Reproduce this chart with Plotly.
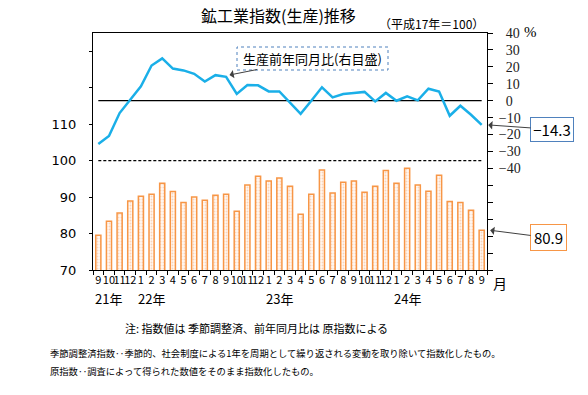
import plotly.graph_objects as go

# ---- data ----
years = [2021] * 4 + [2022] * 12 + [2023] * 12 + [2024] * 9
months = [9, 10, 11, 12] + list(range(1, 13)) + list(range(1, 13)) + list(range(1, 10))
categories = [f"{y}/{m}" for y, m in zip(years, months)]
month_labels = [str(m) for m in months]

production_index = [79.5, 83.4, 85.6, 88.9, 90.2, 90.8, 93.8, 91.5, 88.5, 90.0,
                    89.1, 90.5, 90.8, 86.1, 93.3, 95.7, 94.4, 95.2, 93.0, 85.3,
                    90.8, 97.4, 91.1, 94.1, 94.4, 91.3, 93.0, 97.3, 93.8, 97.9,
                    93.3, 91.6, 96.0, 88.8, 88.5, 86.4, 80.9]
yoy_change = [-25.6, -20.8, -7.3, 0.5, 8.5, 20.8, 25.0, 19.0, 17.9, 15.9,
              11.3, 15.1, 14.1, 4.0, 9.3, 9.1, 5.5, 5.5, -1.0, -7.7,
              0.0, 7.9, 2.0, 4.0, 4.6, 5.2, -0.4, 4.6, 0.0, 2.6,
              0.2, 7.1, 5.4, -8.9, -3.0, -8.3, -14.3]

year_label_cats = ["2021/10", "2022/2", "2023/2", "2024/2"]
year_label_text = ["21年", "22年", "23年", "24年"]

left_tick_vals = [70, 80, 90, 100, 110, 120, 130]
left_tick_text = ["70", "80", "90", "100", "110", "", ""]
right_tick_vals = list(range(-100, 41, 10))
right_tick_text = [("" if v < -40 else (("\u2212" + str(-v)) if v < 0 else "\u2007" + str(v)))
                   for v in right_tick_vals]

JP = "Noto Sans CJK JP"
ORANGE = "#F79646"
BLUE = "#1AAFE8"

# plot area spans x 93..487, y 33..270 in the 588x395 window (body margin removed)
PL, PR, PT, PB = 93, 487, 33, 270
PW, PH = PR - PL, PB - PT


def px(x):
    return (x - PL) / PW


def py(y):
    return (PB - y) / PH


fig = go.Figure()
fig.add_trace(go.Bar(
    x=categories, y=production_index, yaxis="y",
    marker=dict(color="#FFF3EA", line=dict(color=ORANGE, width=1.5),
                pattern=dict(shape=".", fgcolor="#F4B183", bgcolor="#FFF8F3", size=3, solidity=0.3)),
    showlegend=False, hoverinfo="skip",
))
fig.add_trace(go.Scatter(
    x=categories, y=yoy_change, yaxis="y2", mode="lines",
    line=dict(color=BLUE, width=2.5), showlegend=False, hoverinfo="skip",
))

fig.update_layout(
    width=588, height=395,
    margin=dict(l=PL, r=588 - PR, t=PT, b=395 - PB, pad=0),
    paper_bgcolor="white", plot_bgcolor="white",
    bargap=0.52,
    font=dict(family=JP, size=12, color="black"),
    xaxis=dict(
        type="category", tickmode="array", tickvals=categories, ticktext=month_labels,
        tickangle=0, tickson="boundaries", ticks="outside", ticklen=4, tickcolor="black",
        showline=True, linecolor="black", linewidth=1, mirror=True,
        showgrid=False, zeroline=False,
        tickfont=dict(family=JP, size=11),
    ),
    yaxis=dict(
        range=[70, 135], tickmode="array", tickvals=left_tick_vals, ticktext=left_tick_text,
        ticks="outside", ticklen=3, tickcolor="black", ticklabelstandoff=10,
        showline=True, linecolor="black", linewidth=1,
        showgrid=False, zeroline=False,
        tickfont=dict(family="DejaVu Sans", size=13),
    ),
    yaxis2=dict(
        range=[-100, 40], overlaying="y", side="right",
        tickmode="array", tickvals=right_tick_vals, ticktext=right_tick_text,
        ticks="outside", ticklen=5, tickcolor="black", ticklabelstandoff=3,
        showline=True, linecolor="black", linewidth=1,
        showgrid=False, zeroline=False,
        tickfont=dict(family="Liberation Serif", size=14, color="#222222"),
    ),
)

# reference lines
fig.add_shape(type="line", xref="x", yref="y2", x0=categories[0], x1=categories[-1],
              y0=0, y1=0, line=dict(color="black", width=1.2), layer="below")
fig.add_shape(type="line", xref="x", yref="y", x0=categories[0], x1=categories[-1],
              y0=100, y1=100, line=dict(color="black", width=1.2, dash="3px,2px"), layer="below")

# label box for line series (dotted border)
fig.add_shape(type="rect", xref="paper", yref="paper",
              x0=px(237), x1=px(388), y0=py(70), y1=py(47),
              line=dict(color="#4F81BD", width=1, dash="dot"), fillcolor="white", layer="above")

annotations = [
    dict(text="鉱工業指数(生産)推移", xref="paper", yref="paper", x=px(278), y=py(15.5),
         showarrow=False, font=dict(family=JP, size=16), xanchor="center", yanchor="middle"),
    dict(text="（平成17年＝100）", xref="paper", yref="paper", x=px(431), y=py(23),
         showarrow=False, font=dict(family=JP, size=12), xanchor="center", yanchor="middle"),
    dict(text="%", xref="paper", yref="paper", x=px(530), y=py(32),
         showarrow=False, font=dict(family="Liberation Serif", size=15), xanchor="center", yanchor="middle"),
    dict(text="生産前年同月比(右目盛)", xref="paper", yref="paper",
         x=px(229.5), y=py(75), ax=83, ay=-16.5,
         showarrow=True, arrowhead=1, arrowsize=1.4, arrowwidth=1, arrowcolor="#404040",
         font=dict(family=JP, size=13), width=147, height=19, borderpad=1),
    dict(text=f"{yoy_change[-1]:.1f}".replace("-", "\u2212"), xref="paper", yref="y2",
         x=1.003, y=yoy_change[-1], ax=64, ay=4.5,
         showarrow=True, arrowhead=1, arrowsize=1.4, arrowwidth=1, arrowcolor="#404040",
         font=dict(family=JP, size=15), bordercolor="#4F81BD", borderwidth=1, borderpad=2,
         bgcolor="white", width=38, height=19),
    dict(text=f"{production_index[-1]:.1f}", xref="paper", yref="y",
         x=1.008, y=production_index[-1], ax=58.5, ay=7.5,
         showarrow=True, arrowhead=1, arrowsize=1.4, arrowwidth=1, arrowcolor="#404040",
         font=dict(family=JP, size=15), bordercolor=ORANGE, borderwidth=1, borderpad=2,
         bgcolor="white", width=31, height=21),
    dict(text="月", xref="paper", yref="paper", x=px(500), y=py(283),
         showarrow=False, font=dict(family=JP, size=14), xanchor="center", yanchor="middle"),
    dict(text="注: 指数値は 季節調整済、前年同月比は 原指数による", xref="paper", yref="paper",
         x=px(256), y=py(328), showarrow=False,
         font=dict(family=JP, size=11), xanchor="center", yanchor="middle"),
    dict(text="季節調整済指数‥季節的、社会制度による1年を周期として繰り返される変動を取り除いて指数化したもの。",
         xref="paper", yref="paper", x=px(48), y=py(353), showarrow=False,
         font=dict(family=JP, size=9.3), xanchor="left", yanchor="middle"),
    dict(text="原指数‥調査によって得られた数値をそのまま指数化したもの。",
         xref="paper", yref="paper", x=px(48), y=py(371), showarrow=False,
         font=dict(family=JP, size=9.3), xanchor="left", yanchor="middle"),
]
for cat, txt in zip(year_label_cats, year_label_text):
    annotations.append(dict(text=txt, xref="x", yref="paper", x=cat, y=py(298),
                            showarrow=False, font=dict(family=JP, size=13),
                            xanchor="center", yanchor="middle"))
fig.update_layout(annotations=annotations)

fig.write_html("out.html", config={"displayModeBar": False},
               post_script="document.body.style.margin='0px';")
